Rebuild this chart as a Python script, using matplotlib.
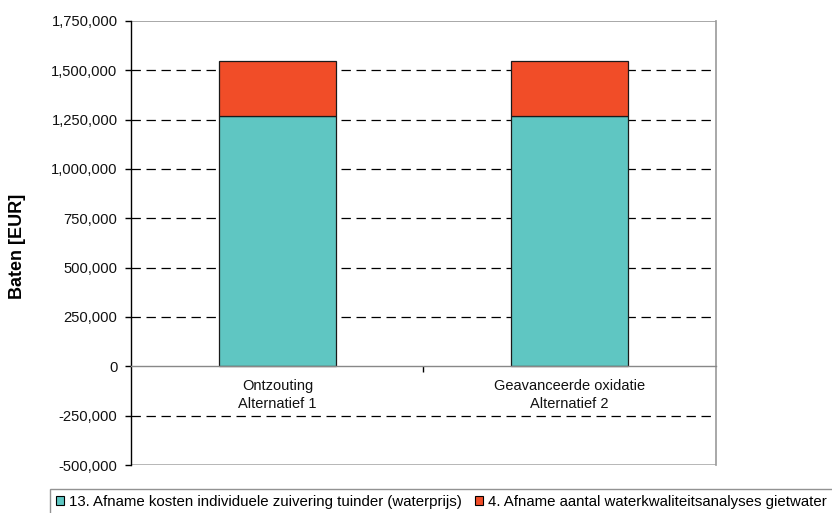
import matplotlib
matplotlib.use("Agg")
import matplotlib.pyplot as plt
from matplotlib.patches import Patch
from matplotlib.ticker import FuncFormatter, FixedLocator

plt.rcParams['font.family'] = ['Liberation Sans', 'DejaVu Sans']

categories = ["Ontzouting\nAlternatief 1", "Geavanceerde oxidatie\nAlternatief 2"]
series_names = [
    "13. Afname kosten individuele zuivering tuinder (waterprijs)",
    "4. Afname aantal waterkwaliteitsanalyses gietwater",
]
zuivering = [1270000, 1270000]
analyses = [275000, 275000]
colors = ["#5FC6C2", "#F14D28"]
y_ticks = [-500000, -250000, 0, 250000, 500000, 750000, 1000000,
           1250000, 1500000, 1750000]

fig = plt.figure(figsize=(8.32, 5.13), dpi=100)
ax = fig.add_axes([0.158, 0.0935, 0.702, 0.866])

x = list(range(len(categories)))
width = 0.4
ax.bar(x, zuivering, width, color=colors[0], edgecolor="#1a1a1a", linewidth=0.9, zorder=3)
ax.bar(x, analyses, width, bottom=zuivering, color=colors[1],
       edgecolor="#1a1a1a", linewidth=0.9, zorder=3)

ax.set_xlim(-0.5, len(categories) - 0.5)
ax.set_ylim(y_ticks[0], y_ticks[-1])
ax.set_yticks(y_ticks)
ax.yaxis.set_major_formatter(FuncFormatter(lambda v, p: f"{int(v):,}"))

# dashed grid lines for the inner ticks
for v in y_ticks[1:-1]:
    if v != 0:
        ax.axhline(v, color="black", linestyle=(0, (7.5, 4.5)), linewidth=0.9, zorder=1)
ax.axhline(y_ticks[-1], color="#999999", linewidth=1.2, zorder=1)
ax.axhline(y_ticks[0], color="#aaaaaa", linewidth=1.2, zorder=1)

ax.spines["top"].set_visible(False)
ax.spines["right"].set_color("#999999")
ax.spines["right"].set_linewidth(1.2)
ax.spines["left"].set_color("black")
ax.spines["left"].set_linewidth(1.0)
ax.spines["bottom"].set_position(("data", 0))
ax.spines["bottom"].set_color("#888888")
ax.spines["bottom"].set_linewidth(1.0)
ax.spines["bottom"].set_zorder(4)

ax.set_xticks(x)
ax.set_xticklabels(categories, fontsize=10.5, color="#111111", linespacing=1.4)
ax.tick_params(axis="x", which="major", length=0, pad=9)
ax.xaxis.set_minor_locator(FixedLocator([0.5]))
ax.tick_params(axis="x", which="minor", length=4, width=1, color="black", direction="out")
ax.tick_params(axis="y", length=4, width=1, labelsize=10.6, pad=6, labelcolor="#111111")

fig.text(18 / 832, 1 - 246 / 513, "Baten [EUR]", rotation=90, ha="center", va="center",
         fontsize=13, fontweight="bold")

handles = [Patch(facecolor=c, edgecolor="black", linewidth=0.8) for c in colors]
leg = fig.legend(handles, series_names, loc="upper left",
                 bbox_to_anchor=(50 / 832, 1 - 489 / 513), ncol=2,
                 fontsize=10.8, frameon=True, fancybox=False,
                 handlelength=0.55, handleheight=0.55, handletextpad=0.3,
                 columnspacing=0.9, borderpad=0.4, borderaxespad=0)
leg.get_frame().set_edgecolor("#777777")
leg.get_frame().set_linewidth(1.0)

fig.savefig("out.png", dpi=100)
